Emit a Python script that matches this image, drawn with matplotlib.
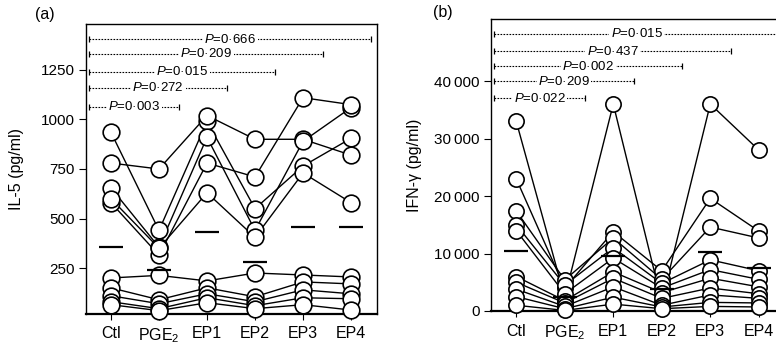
#!/usr/bin/env python3
"""
IL-5 and IFN-gamma release per donor under PGE2 and EP agonists.
Paired donor lines, group median bars and P-value brackets vs control.
"""

import matplotlib
matplotlib.use("Agg")
import matplotlib.pyplot as plt

plt.rcParams["font.family"] = ["Liberation Sans", "DejaVu Sans"]
plt.rcParams["mathtext.fontset"] = "custom"
plt.rcParams["mathtext.rm"] = "Liberation Sans"
plt.rcParams["mathtext.it"] = "Liberation Sans:italic"
plt.rcParams["mathtext.default"] = "regular"

conditions = ["Ctl", "PGE$_2$", "EP1", "EP2", "EP3", "EP4"]

# Panel (a): IL-5 (pg/ml), one list per donor, order = conditions
il5_donors = [
    [935, 440, 990, 550, 765, 905],
    [780, 750, 1020, 900, 900, 820],
    [655, 355, 910, 440, 890, 1060],
    [580, 315, 780, 710, 1110, 1075],
    [600, 350, 630, 405, 730, 580],
    [200, 213, 185, 225, 215, 205],
    [150, 90, 150, 105, 180, 170],
    [110, 70, 120, 80, 140, 120],
    [80, 45, 100, 60, 100, 95],
    [65, 35, 75, 45, 65, 38],
]
il5_median = [356, 240, 432, 280, 457, 457]
il5_yticks = [250, 500, 750, 1000, 1250]
il5_pvals = ["0·003", "0·272", "0·015", "0·209", "0·666"]
il5_bracket_y = [1063, 1159, 1240, 1331, 1406]

# Panel (b): IFN-gamma (pg/ml)
ifn_donors = [
    [33000, 2400, 36000, 1600, 36000, 28000],
    [23000, 4000, 13800, 7000, 19600, 13900],
    [17400, 5400, 12700, 5500, 14600, 12700],
    [15000, 4500, 11000, 4800, 8900, 7000],
    [14000, 3000, 9200, 4000, 7200, 5500],
    [6000, 1800, 6800, 3200, 5700, 4200],
    [5000, 1400, 5700, 2200, 4000, 3000],
    [3800, 800, 4200, 1000, 2800, 2200],
    [2500, 400, 2400, 700, 1500, 1400],
    [1000, 100, 1200, 400, 800, 700],
]
ifn_median = [10400, 2400, 9500, 3800, 10300, 7400]
ifn_yticks = [0, 10000, 20000, 30000, 40000]
ifn_yticklabels = ["0", "10\u2009000", "20\u2009000", "30\u2009000", "40\u2009000"]
ifn_pvals = ["0·022", "0·209", "0·002", "0·437", "0·015"]
ifn_bracket_y = [37000, 40000, 42600, 45200, 48200]


def draw_panel(ax, donors, medians, pvals, bracket_y, msize):
    x = list(range(len(conditions)))
    for vals in donors:
        ax.plot(x, vals, color="black", lw=1.0, zorder=2, clip_on=False)
    for vals in donors:
        ax.plot(x, vals, "o", ms=msize, mfc="white", mec="black", mew=1.2,
                zorder=3, clip_on=False)
    for xi, m in zip(x, medians):
        ax.hlines(m, xi - 0.25, xi + 0.25, color="black", lw=1.6, zorder=4)

    # brackets: Ctl vs each treatment
    for i, (p, yb) in enumerate(zip(pvals, bracket_y)):
        x0, x1 = -0.45, i + 1 + 0.42
        ax.plot([x0, x1], [yb, yb], color="black", lw=0.8,
                ls=(0, (1.5, 1.2)), zorder=5, clip_on=False)
        for xe in (x0, x1):
            ax.plot([xe], [yb], marker="|", ms=5, mew=0.9, color="black",
                    zorder=5, clip_on=False)
        ax.text((x0 + x1) / 2, yb, r"$\mathit{P}$=" + p, fontsize=9.5,
                ha="center", va="center", zorder=6,
                bbox=dict(facecolor="white", edgecolor="none", pad=1.0))

    ax.set_xlim(-0.52, 5.54)
    ax.set_xticks(x)
    ax.set_xticklabels(conditions, fontsize=11.5)
    ax.tick_params(axis="x", length=4, pad=5)
    ax.tick_params(axis="y", length=5, pad=3, labelsize=11)
    for side in ["top", "right", "left", "bottom"]:
        ax.spines[side].set_linewidth(1.0)
    ax.spines["bottom"].set_linewidth(1.6)


def main():
    fig = plt.figure(figsize=(7.76, 3.46), dpi=100)
    fig.patch.set_facecolor("white")

    ax_a = fig.add_axes([86 / 776, 32 / 346, 291 / 776, 290 / 346])
    draw_panel(ax_a, il5_donors, il5_median, il5_pvals, il5_bracket_y, 12)
    ax_a.set_ylim(18, 1482)
    ax_a.set_yticks(il5_yticks)
    ax_a.set_ylabel("IL-5 (pg/ml)", fontsize=11.5, labelpad=12)

    ax_b = fig.add_axes([491 / 776, 35 / 346, 294 / 776, 292 / 346])
    draw_panel(ax_b, ifn_donors, ifn_median, ifn_pvals, ifn_bracket_y, 11)
    ax_b.set_ylim(0, 50800)
    ax_b.set_yticks(ifn_yticks)
    ax_b.set_yticklabels(ifn_yticklabels)
    ax_b.set_ylabel("IFN-γ (pg/ml)", fontsize=11.5, labelpad=9)

    fig.text(45 / 776, 1 - 15 / 346, "(a)", fontsize=11.5, ha="center", va="center")
    fig.text(443 / 776, 1 - 13 / 346, "(b)", fontsize=11.5, ha="center", va="center")

    fig.savefig("out.png", dpi=100, facecolor="white")
    plt.close(fig)


if __name__ == "__main__":
    main()
